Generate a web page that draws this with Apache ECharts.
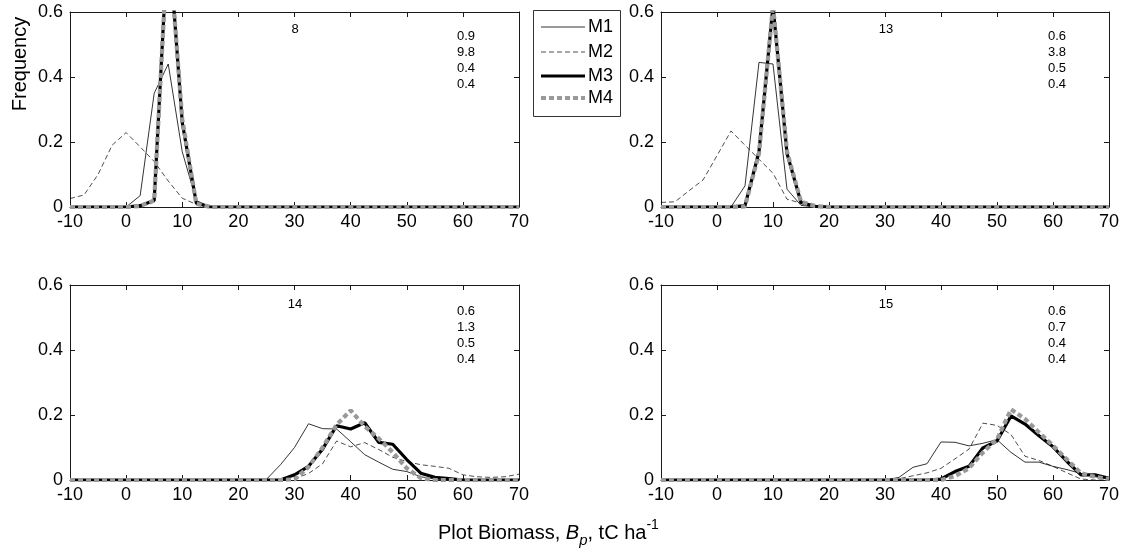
<!DOCTYPE html>
<html><head><meta charset="utf-8">
<script src="https://cdn.jsdelivr.net/npm/echarts@6/dist/echarts.min.js"></script>
<style>html,body{margin:0;padding:0;background:#fff}#c{width:1122px;height:558px}</style>
</head><body><div id="c"></div>
<script>
// ---- data ----
const biomassBins = [-10,-7.5,-5,-2.5,0,2.5,5,7.5,10,12.5,15,17.5,20,22.5,25,27.5,30,32.5,35,37.5,40,42.5,45,47.5,50,52.5,55,57.5,60,62.5,65,67.5,70];
const xTickMin = -10, xTickMax = 70, xTickStep = 10;
const yTickMin = 0, yTickMax = 0.6, yTickStep = 0.2;
const seriesNames = ['M1','M2','M3','M4'];
const panelIds = ['8','13','14','15'];
const panelStats = [['0.9','9.8','0.4','0.4'],['0.6','3.8','0.5','0.4'],['0.6','1.3','0.5','0.4'],['0.6','0.7','0.4','0.4']];

// panel 8
const p8_M1 = [0,0,0,0,0,0.035,0.35,0.44,0.17,0.02,0,0,0,0,0,0,0,0,0,0,0,0,0,0,0,0,0,0,0,0,0,0,0];
const p8_M2 = [0.026,0.037,0.1,0.19,0.229,0.185,0.14,0.08,0.027,0.008,0,0,0,0,0,0,0,0,0,0,0,0,0,0,0,0,0,0,0,0,0,0,0];
const p8_M3 = [0,0,0,0,0,0.004,0.02,0.85,0.26,0.012,0,0,0,0,0,0,0,0,0,0,0,0,0,0,0,0,0,0,0,0,0,0,0];
const p8_M4 = [0,0,0,0,0,0.003,0.02,0.84,0.27,0.01,0,0,0,0,0,0,0,0,0,0,0,0,0,0,0,0,0,0,0,0,0,0,0];
// panel 13
const p13_M1 = [0,0,0,0,0,0,0.065,0.445,0.44,0.055,0.005,0,0,0,0,0,0,0,0,0,0,0,0,0,0,0,0,0,0,0,0,0,0];
const p13_M2 = [0.014,0.016,0.05,0.083,0.158,0.234,0.19,0.147,0.104,0.024,0.012,0,0,0,0,0,0,0,0,0,0,0,0,0,0,0,0,0,0,0,0,0,0];
const p13_M3 = [0,0,0,0,0,0,0.004,0.17,0.62,0.165,0.014,0.002,0,0,0,0,0,0,0,0,0,0,0,0,0,0,0,0,0,0,0,0,0];
const p13_M4 = [0,0,0,0,0,0,0.002,0.165,0.62,0.17,0.016,0.003,0,0,0,0,0,0,0,0,0,0,0,0,0,0,0,0,0,0,0,0,0];
// panel 14
const p14_M1 = [0,0,0,0,0,0,0,0,0,0,0,0,0,0,0.002,0.047,0.1,0.173,0.158,0.157,0.118,0.078,0.055,0.033,0.026,0.01,0.003,0,0,0,0,0,0];
const p14_M2 = [0,0,0,0,0,0,0,0,0,0,0,0,0,0,0,0,0.004,0.02,0.05,0.12,0.102,0.115,0.094,0.07,0.057,0.047,0.042,0.036,0.016,0.01,0.008,0.01,0.018];
const p14_M3 = [0,0,0,0,0,0,0,0,0,0,0,0,0,0,0,0,0.016,0.042,0.095,0.167,0.157,0.176,0.116,0.11,0.063,0.021,0.008,0.004,0,0,0,0,0];
const p14_M4 = [0,0,0,0,0,0,0,0,0,0,0,0,0,0,0,0,0.002,0.04,0.1,0.17,0.214,0.165,0.128,0.085,0.036,0.006,0,0,0,0,0,0,0];
// panel 15
const p15_M1 = [0,0,0,0,0,0,0,0,0,0,0,0,0,0,0,0,0,0.008,0.039,0.05,0.117,0.116,0.105,0.113,0.124,0.085,0.055,0.055,0.042,0.032,0.02,0.01,0.004];
const p15_M2 = [0,0,0,0,0,0,0,0,0,0,0,0,0,0,0,0,0,0.004,0.013,0.022,0.036,0.065,0.095,0.175,0.168,0.14,0.073,0.06,0.042,0.022,0.003,0,0];
const p15_M3 = [0,0,0,0,0,0,0,0,0,0,0,0,0,0,0,0,0,0,0,0,0.003,0.026,0.042,0.099,0.12,0.197,0.172,0.136,0.102,0.057,0.016,0.016,0.005];
const p15_M4 = [0,0,0,0,0,0,0,0,0,0,0,0,0,0,0,0,0,0,0,0,0,0.012,0.036,0.085,0.125,0.217,0.188,0.146,0.106,0.063,0.021,0.01,0.003];

const panelSeries = [
  [p8_M1, p8_M2, p8_M3, p8_M4],
  [p13_M1, p13_M2, p13_M3, p13_M4],
  [p14_M1, p14_M2, p14_M3, p14_M4],
  [p15_M1, p15_M2, p15_M3, p15_M4]
];

// ---- layout / style ----
const FONT = '"Liberation Sans", Arial, Helvetica, sans-serif';
const grids = [
  {left:70, top:12, width:449, height:195},
  {left:661, top:12, width:449, height:195},
  {left:70, top:285, width:449, height:195},
  {left:661, top:285, width:449, height:195}
];
const axisColor = '#1a1a1a';
const lineStyles = [
  {color:'#000', width:0.8, type:'solid'},
  {color:'#000', width:0.7, type:[5,3]},
  {color:'#000', width:3.2, type:'solid'},
  {color:'#999', width:4.2, type:[5,3]}
];

const xAxes = [], yAxes = [], series = [], graphics = [];
grids.forEach((g, i) => {
  const common = {gridIndex:i, type:'value', splitLine:{show:false},
    axisLine:{show:true, onZero:false, lineStyle:{color:axisColor, width:1}},
    axisTick:{show:true, inside:true, length:5, lineStyle:{color:axisColor, width:1}}};
  xAxes.push(Object.assign({}, common, {position:'bottom', min:xTickMin, max:xTickMax, interval:xTickStep,
    axisLabel:{show:true, fontSize:18, color:'#000', fontFamily:FONT, margin:6}}));
  xAxes.push(Object.assign({}, common, {position:'top', min:xTickMin, max:xTickMax, interval:xTickStep,
    axisLabel:{show:false}}));
  yAxes.push(Object.assign({}, common, {position:'left', min:yTickMin, max:yTickMax, interval:yTickStep,
    axisLabel:{show:true, fontSize:18, color:'#000', fontFamily:FONT, margin:7}}));
  yAxes.push(Object.assign({}, common, {position:'right', min:yTickMin, max:yTickMax, interval:yTickStep,
    axisLabel:{show:false}}));
  panelSeries[i].forEach((vals, s) => {
    series.push({
      name: seriesNames[s], type:'line', xAxisIndex:2*i, yAxisIndex:2*i,
      symbol:'none', showSymbol:false, animation:false, z: 2 + s,
      lineStyle: lineStyles[s],
      itemStyle: {color: lineStyles[s].color},
      data: biomassBins.map((x, k) => [x, vals[k]])
    });
  });
  const baseY = i < 2 ? 24.7 : 26.7;
  graphics.push({type:'text', x: g.left + 225, y: g.top + (i < 2 ? 17.3 : 19),
    style:{text: panelIds[i], font:'13px ' + FONT, fill:'#000', align:'center', verticalAlign:'middle'}});
  panelStats[i].forEach((t, k) => {
    graphics.push({type:'text', x: g.left + 387, y: g.top + baseY + k * 15.8,
      style:{text: t, font:'13px ' + FONT, fill:'#000', align:'left', verticalAlign:'middle'}});
  });
});

// legend box (drawn as graphic so each key shows the exact line style)
const legBox = {x:533, y:10, w:87, h:106};
const legRowY = [27, 52, 76, 98];
graphics.push({type:'rect', z:100, shape:{x:legBox.x + 0.5, y:legBox.y + 0.5, width:legBox.w, height:legBox.h},
  style:{fill:'#fff', stroke:'#333', lineWidth:1}});
seriesNames.forEach((n, s) => {
  const ls = lineStyles[s];
  graphics.push({type:'line', z:101, shape:{x1:541, y1:legRowY[s], x2:585, y2:legRowY[s]},
    style:{stroke:ls.color, lineWidth:ls.width, lineDash: Array.isArray(ls.type) ? ls.type : null}});
  graphics.push({type:'text', z:101, x:588, y:legRowY[s],
    style:{text:n, font:'18px ' + FONT, fill:'#000', align:'left', verticalAlign:'middle'}});
});

graphics.push({type:'text', x:20, y:64, rotation: Math.PI/2,
  style:{text:'Frequency', font:'20px ' + FONT, fill:'#000', align:'center', verticalAlign:'middle'}});
graphics.push({type:'text', x:438, y:533,
  style:{
    text:'{a|Plot Biomass, }{b|B}{sub|p}{a|, tC ha}{sup|-1}',
    align:'left', verticalAlign:'middle',
    rich:{
      a:{fontSize:20, fontFamily:FONT, fill:'#000', lineHeight:30},
      b:{fontSize:20, fontFamily:FONT, fontStyle:'italic', fill:'#000', lineHeight:30},
      sub:{fontSize:15, fontFamily:FONT, fontStyle:'italic', fill:'#000', lineHeight:14, verticalAlign:'bottom'},
      sup:{fontSize:14, fontFamily:FONT, fill:'#000', lineHeight:14, verticalAlign:'top'}
    }
  }});

const chart = echarts.init(document.getElementById('c'), null, {renderer:'canvas'});
chart.setOption({
  backgroundColor:'#fff',
  animation:false,
  grid: grids,
  xAxis: xAxes,
  yAxis: yAxes,
  series: series,
  graphic: graphics
});
</script>
</body></html>
